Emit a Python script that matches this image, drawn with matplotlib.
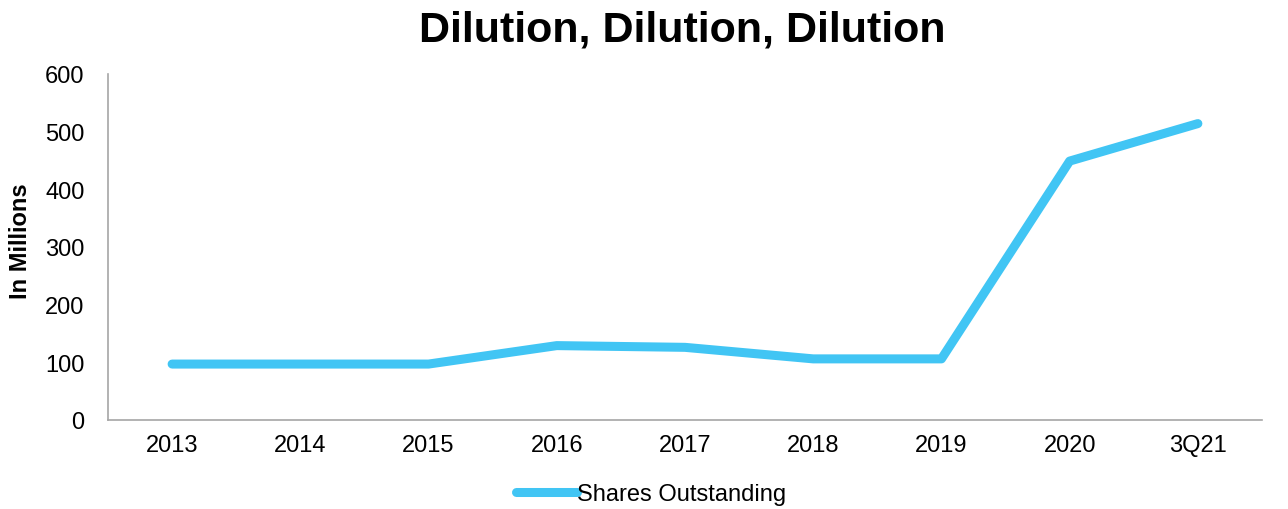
import matplotlib
matplotlib.use("Agg")
import matplotlib.pyplot as plt

plt.rcParams['font.family'] = ['Liberation Sans', 'DejaVu Sans']

years = ['2013', '2014', '2015', '2016', '2017', '2018', '2019', '2020', '3Q21']
shares = [97, 97, 97, 129, 126, 106, 106, 449, 514]

fig = plt.figure(figsize=(12.88, 5.10), dpi=100)
ax = fig.add_axes([108 / 1288, 1 - 421 / 510, (1262 - 108) / 1288, (421 - 75) / 510])

x = range(len(years))
ax.plot(x, shares, color='#41C5F4', lw=6.5, solid_capstyle='round',
        solid_joinstyle='round', label='Shares Outstanding')

ax.set_xlim(-0.5, len(years) - 0.5)
ax.set_ylim(0, 600)
ax.set_yticks(range(0, 601, 100))
ax.set_xticks(list(x))
ax.set_xticklabels(years)
ax.tick_params(axis='both', length=0, labelsize=17, pad=10)
ax.tick_params(axis='y', pad=17)

for s in ['top', 'right']:
    ax.spines[s].set_visible(False)
for s in ['left', 'bottom']:
    ax.spines[s].set_color('#A6A6A6')
    ax.spines[s].set_linewidth(1.2)

ax.set_ylabel('In Millions', fontsize=17, fontweight='bold')
# label sits a bit above the axes centre in the original
ax.yaxis.set_label_coords(-0.066, 0.52)
fig.text(682 / 1288, 1 - 30 / 510, 'Dilution, Dilution, Dilution', ha='center', va='center',
         fontsize=31, fontweight='bold')

fig.legend(loc='center', bbox_to_anchor=(651 / 1288, 1 - 495 / 510), frameon=False, fontsize=17,
           handlelength=2.6, handletextpad=0.0)

fig.savefig('out.png', dpi=100)
